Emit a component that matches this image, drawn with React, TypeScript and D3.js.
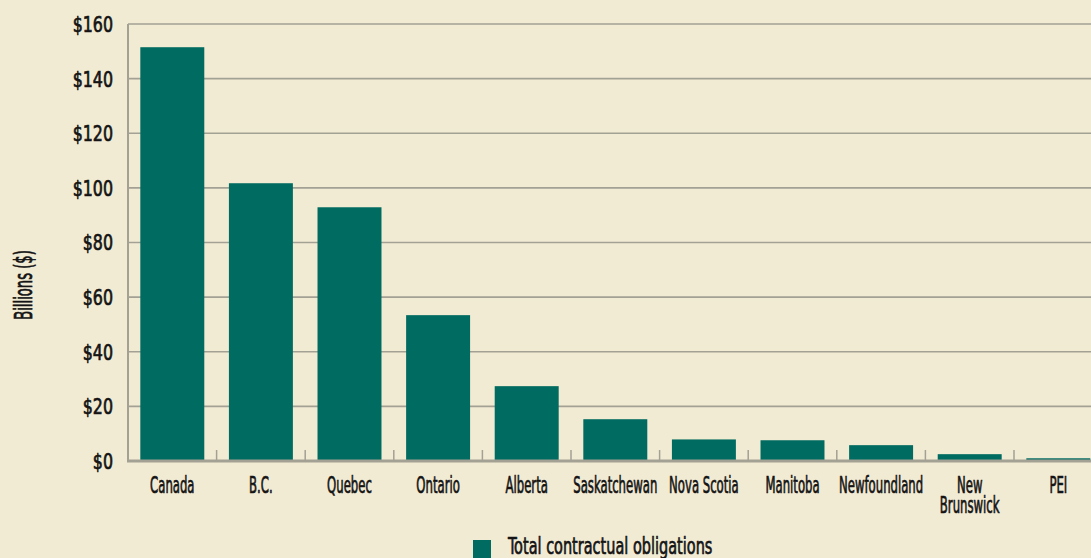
import React from "react";
import * as d3 from "d3";

const categories = [
  "Canada",
  "B.C.",
  "Quebec",
  "Ontario",
  "Alberta",
  "Saskatchewan",
  "Nova Scotia",
  "Manitoba",
  "Newfoundland",
  "New\nBrunswick",
  "PEI",
];
const values = [151.5, 101.7, 92.9, 53.4, 27.4, 15.3, 7.9, 7.6, 5.8, 2.5, 1.0];
const yTicks = [0, 20, 40, 60, 80, 100, 120, 140, 160];
const seriesName = "Total contractual obligations";
const yAxisTitle = "Billions ($)";

const W = 1091;
const H = 558;
const BG = "#f2ebd4";
const BAR = "#006b60";
const GRID = "#a3a094";
const INK = "#141414";
const FONT = "'DejaVu Sans Condensed', 'DejaVu Sans', sans-serif";
const TEXT_STYLE = {
  fontFamily: FONT,
  fontWeight: "normal" as const,
  fill: INK,
  stroke: INK,
  strokeWidth: 0.7,
};

export default function App() {
  const left = 128;
  const step = 88.6;
  const x = d3
    .scaleBand<string>()
    .domain(categories)
    .range([left, left + step * categories.length])
    .paddingInner(0.278)
    .paddingOuter(0.139);
  const y = d3.scaleLinear().domain([0, 160]).range([461, 24]);
  const fmt = (v: number) => "$" + d3.format("d")(v);

  return (
    <svg
      width={W}
      height={H}
      style={{ position: "fixed", left: 0, top: 0, display: "block" }}
    >
      <rect x={0} y={0} width={W} height={H} fill={BG} />
      {yTicks
        .filter((t) => t > 0)
        .map((t) => (
          <line
            key={"g" + t}
            x1={left}
            x2={W}
            y1={y(t)}
            y2={y(t)}
            stroke={GRID}
            strokeWidth={1.6}
          />
        ))}
      {yTicks.map((t) => (
        <text
          key={"yl" + t}
          transform={`translate(113,${y(t)}) scale(0.8,1)`}
          dy="0.36em"
          textAnchor="end"
          fontSize={22}
          {...TEXT_STYLE}
        >
          {fmt(t)}
        </text>
      ))}
      {categories.map((c, i) => (
        <rect
          key={"b" + c}
          x={x(c)!}
          y={y(values[i])}
          width={x.bandwidth()}
          height={y(0) - y(values[i])}
          fill={BAR}
        />
      ))}
      <line x1={left} x2={left} y1={y(160)} y2={y(0) + 1} stroke={GRID} strokeWidth={2} />
      <line x1={left - 1} x2={W} y1={y(0)} y2={y(0)} stroke={GRID} strokeWidth={3} />
      {categories.slice(1).map((c) => {
        const bx = x(c)! - (x.step() - x.bandwidth()) / 2;
        return (
          <line
            key={"t" + c}
            x1={bx}
            x2={bx}
            y1={y(0) - 11}
            y2={y(0)}
            stroke={GRID}
            strokeWidth={1.5}
          />
        );
      })}
      {categories.map((c) => {
        const cx = x(c)! + x.bandwidth() / 2;
        const lines = c.split("\n");
        return lines.map((ln, j) => (
          <text
            key={"c" + c + j}
            transform={`translate(${cx},${493 + j * 20}) scale(0.565,1)`}
            textAnchor="middle"
            fontSize={23}
            {...TEXT_STYLE}
          >
            {ln}
          </text>
        ));
      })}
      <text
        transform={`translate(32,285) rotate(-90) scale(0.61,1)`}
        textAnchor="middle"
        fontSize={24}
        {...TEXT_STYLE}
      >
        {yAxisTitle}
      </text>
      <rect x={473} y={540} width={18} height={18} fill={BAR} />
      <text
        transform={`translate(508,554) scale(0.7,1)`}
        fontSize={23}
        {...TEXT_STYLE}
      >
        {seriesName}
      </text>
    </svg>
  );
}
